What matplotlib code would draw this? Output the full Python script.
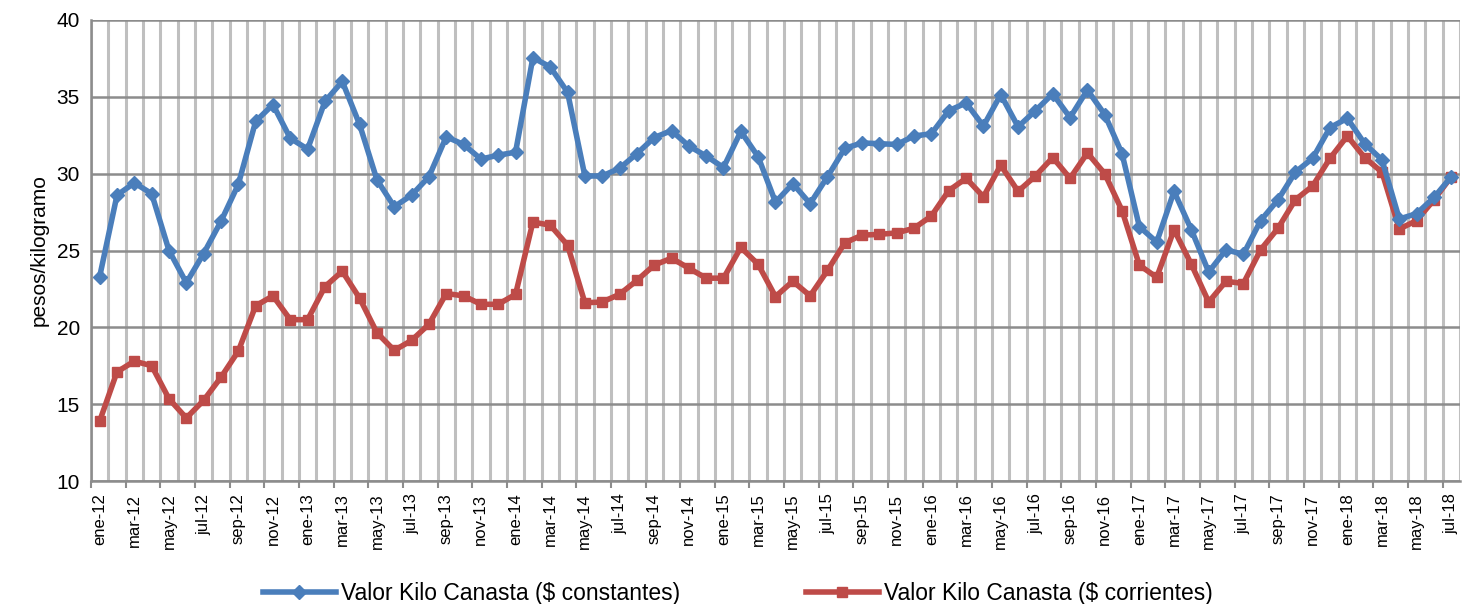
import numpy as np
import matplotlib
matplotlib.use("Agg")
import matplotlib.pyplot as plt
import matplotlib.transforms as mtransforms

plt.rcParams['font.family'] = ['Liberation Sans', 'DejaVu Sans']

MESES = ["ene", "feb", "mar", "abr", "may", "jun",
         "jul", "ago", "sep", "oct", "nov", "dic"]
YEARS = [12, 13, 14, 15, 16, 17, 18]
N_MONTHS = 79  # ene-12 .. jul-18

constantes = [
    23.3, 28.6, 29.4, 28.7, 25.0, 22.9, 24.8, 26.9, 29.3, 33.4, 34.5, 32.3,
    31.6, 34.7, 36.0, 33.2, 29.6, 27.85, 28.6, 29.8, 32.4, 31.9, 30.95, 31.2,
    31.4, 37.55, 36.95, 35.3, 29.85, 29.85, 30.35, 31.3, 32.35, 32.8, 31.8, 31.15,
    30.4, 32.75, 31.1, 28.15, 29.35, 28.05, 29.8, 31.65, 32.0, 31.95, 31.9, 32.45,
    32.6, 34.1, 34.6, 33.1, 35.15, 33.05, 34.1, 35.2, 33.65, 35.45, 33.85, 31.3,
    26.55, 25.55, 28.85, 26.35, 23.6, 25.05, 24.75, 26.95, 28.3, 30.1, 31.0, 33.0,
    33.6, 31.95, 30.9, 27.05, 27.4, 28.45, 29.8,
]

corrientes = [
    13.9, 17.1, 17.8, 17.5, 15.35, 14.1, 15.25, 16.75, 18.45, 21.4, 22.05, 20.5,
    20.5, 22.65, 23.65, 21.9, 19.65, 18.5, 19.15, 20.2, 22.2, 22.05, 21.5, 21.5,
    22.15, 26.85, 26.65, 25.35, 21.6, 21.65, 22.15, 23.05, 24.05, 24.5, 23.85, 23.2,
    23.2, 25.2, 24.1, 22.0, 23.0, 22.05, 23.7, 25.5, 26.0, 26.05, 26.15, 26.45,
    27.25, 28.9, 29.7, 28.5, 30.55, 28.85, 29.85, 31.05, 29.7, 31.35, 30.0, 27.6,
    24.05, 23.25, 26.35, 24.1, 21.65, 23.0, 22.85, 25.05, 26.45, 28.3, 29.2, 31.0,
    32.45, 31.05, 30.1, 26.4, 26.95, 28.3, 29.8,
]

labels = [f"{MESES[i % 12]}-{YEARS[i // 12]}" for i in range(N_MONTHS)]
x = np.arange(N_MONTHS)

fig = plt.figure(figsize=(14.75, 6.04), dpi=100)
ax = fig.add_axes([0.0617, 0.2036, 0.9281, 0.7633])

ax.plot(x, constantes, color="#4A7EBB", lw=4, marker="D", ms=7.5,
        label="Valor Kilo Canasta ($ constantes)", zorder=4)
ax.plot(x, corrientes, color="#BE4B48", lw=4, marker="s", ms=7.5,
        label="Valor Kilo Canasta ($ corrientes)", zorder=3)

ax.set_xlim(-0.5, N_MONTHS - 0.5)
ax.set_ylim(10, 40)
ax.set_yticks(np.arange(10, 41, 5))
ax.tick_params(axis="y", labelsize=15, length=0, pad=8)

# month gridlines at category boundaries
ax.set_xticks(np.arange(-0.5, N_MONTHS, 1), minor=True)
ax.grid(axis="x", which="minor", color="#BFBFBF", lw=2.2)
ax.grid(axis="y", which="major", color="#8C8C8C", lw=1.8)
ax.tick_params(axis="x", which="minor", length=0)

ax.set_xticks(x[::2])
ax.set_xticklabels(labels[::2], rotation=90, fontsize=12)
ax.tick_params(axis="x", which="major", length=0, pad=9)

# outward tick marks every two months on the category axis
trans = mtransforms.blended_transform_factory(ax.transData, ax.transAxes)
ax.vlines(np.arange(-0.5, N_MONTHS, 2), -0.015, 0, transform=trans,
          color="#8C8C8C", lw=1.5, clip_on=False)

ax.set_axisbelow(True)
for s in ["top", "right"]:
    ax.spines[s].set_visible(False)
ax.spines["left"].set_color("#8C8C8C")
ax.spines["bottom"].set_color("#8C8C8C")
ax.spines["left"].set_linewidth(1.8)
ax.spines["bottom"].set_linewidth(1.8)

ax.set_ylabel("pesos/kilogramo", fontsize=15, labelpad=6)

fig.legend(loc="center", bbox_to_anchor=(0.5, 0.018), ncol=2, frameon=False,
           fontsize=16.5, handlelength=3.2, columnspacing=5.5, handletextpad=0.2)

fig.savefig("out.png", dpi=100)
